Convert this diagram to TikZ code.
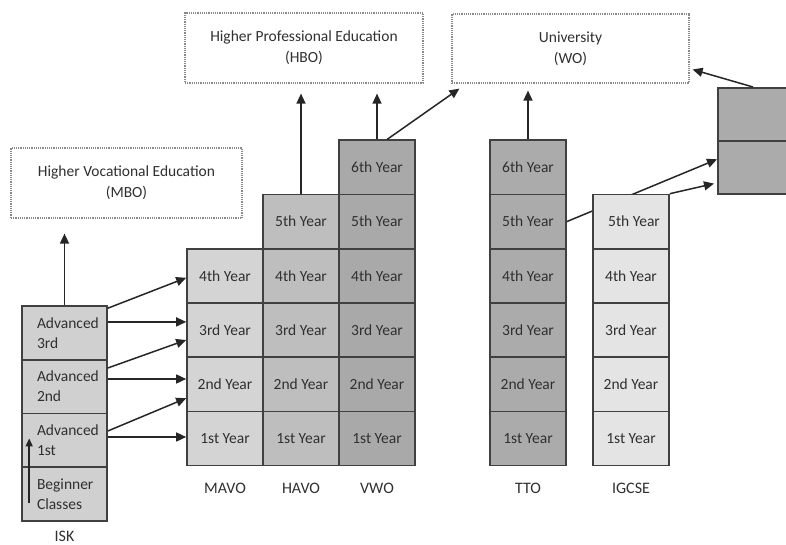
\documentclass[tikz,border=0pt]{standalone}
\usepackage{fontspec}
\setmainfont{Carlito}
\usetikzlibrary{arrows.meta,calc,backgrounds}
\definecolor{txt}{HTML}{303030}
\definecolor{edge}{HTML}{404040}
\definecolor{fisk}{HTML}{D0D0D0}
\definecolor{fmavo}{HTML}{D4D4D4}
\definecolor{fhavo}{HTML}{BEBEBE}
\definecolor{fvwo}{HTML}{A9A9A9}
\definecolor{ftto}{HTML}{ABABAB}
\definecolor{figc}{HTML}{E4E4E4}
\definecolor{dotc}{HTML}{8A8A8A}
\tikzset{
  cellbox/.style={draw=edge, line width=1.6pt, minimum width=76, minimum height=54.2,
    inner sep=0pt, text=txt, font=\fontsize{15.5}{20}\selectfont},
  iskbox/.style={draw=edge, line width=1.6pt, minimum width=85, minimum height=53.75,
    inner xsep=15pt, inner ysep=0pt, text width=55, align=left, fill=fisk, text=txt,
    font=\fontsize{15.5}{20}\selectfont},
  dest/.style={draw=dotc, densely dotted, line width=1.2pt, inner sep=0pt, align=center, text=txt,
    font=\fontsize{15.5}{21}\selectfont},
  lbl/.style={text=txt, font=\fontsize{16}{16}\selectfont, inner sep=0pt},
  arr/.style={draw=black!85, line width=1.5pt, -{Triangle[length=10pt,width=9pt]}}
}
\begin{document}
\begin{tikzpicture}[x=1pt,y=-1pt]
\clip (0,0) rectangle (786,545);
\fill[white] (0,0) rectangle (786,545);
% destination boxes
\node[dest, minimum width=231, minimum height=70] (mbo) at (126.5,183) {Higher Vocational Education\\(MBO)};
\node[dest, minimum width=238, minimum height=70] (hbo) at (304,48) {Higher Professional Education\\(HBO)};
\node[dest, minimum width=237, minimum height=69] (wo) at (570.5,48.5) {University\\(WO)};
% ISK
\node[iskbox] (isk1) at (64.5,332.9) {Advanced\\3rd};
\node[iskbox] (isk2) at (64.5,386.6) {Advanced\\2nd};
\node[iskbox] (isk3) at (64.5,440.4) {Advanced\\1st};
\node[iskbox] (isk4) at (64.5,494.1) {Beginner\\Classes};
% MAVO
\node[cellbox, fill=fmavo] (mavo1) at (225,438.4) {1st Year};
\node[cellbox, fill=fmavo] (mavo2) at (225,384.2) {2nd Year};
\node[cellbox, fill=fmavo] (mavo3) at (225,330.0) {3rd Year};
\node[cellbox, fill=fmavo] (mavo4) at (225,275.8) {4th Year};
% HAVO
\node[cellbox, fill=fhavo] (havo1) at (301,438.4) {1st Year};
\node[cellbox, fill=fhavo] (havo2) at (301,384.2) {2nd Year};
\node[cellbox, fill=fhavo] (havo3) at (301,330.0) {3rd Year};
\node[cellbox, fill=fhavo] (havo4) at (301,275.8) {4th Year};
\node[cellbox, fill=fhavo] (havo5) at (301,221.6) {5th Year};
% VWO
\node[cellbox, fill=fvwo] (vwo1) at (377,438.4) {1st Year};
\node[cellbox, fill=fvwo] (vwo2) at (377,384.2) {2nd Year};
\node[cellbox, fill=fvwo] (vwo3) at (377,330.0) {3rd Year};
\node[cellbox, fill=fvwo] (vwo4) at (377,275.8) {4th Year};
\node[cellbox, fill=fvwo] (vwo5) at (377,221.6) {5th Year};
\node[cellbox, fill=fvwo] (vwo6) at (377,167.4) {6th Year};
% TTO
\node[cellbox, fill=ftto] (tto1) at (528,438.4) {1st Year};
\node[cellbox, fill=ftto] (tto2) at (528,384.2) {2nd Year};
\node[cellbox, fill=ftto] (tto3) at (528,330.0) {3rd Year};
\node[cellbox, fill=ftto] (tto4) at (528,275.8) {4th Year};
\node[cellbox, fill=ftto] (tto5) at (528,221.6) {5th Year};
\node[cellbox, fill=ftto] (tto6) at (528,167.4) {6th Year};
% right box (cut off)
\node[cellbox, fill=ftto, minimum width=80, minimum height=53, anchor=north west] (rb1) at (717,87) {};
\node[cellbox, fill=ftto, minimum width=80, minimum height=53, anchor=north west] (rb2) at (717,140) {};
% TTO 5th -> right box, behind IGCSE
\draw[arr] (tto5.east) -- ($(rb2.west)+(0,-8)$);
% IGCSE
\node[cellbox, fill=figc] (igc1) at (631,438.4) {1st Year};
\node[cellbox, fill=figc] (igc2) at (631,384.2) {2nd Year};
\node[cellbox, fill=figc] (igc3) at (631,330.0) {3rd Year};
\node[cellbox, fill=figc] (igc4) at (631,275.8) {4th Year};
\node[cellbox, fill=figc] (igc5) at (631,221.6) {\hspace*{6pt}5th Year};
% column labels
\node[lbl] (lmavo) at (225,488) {MAVO};
\node[lbl] (lhavo) at (301,488) {HAVO};
\node[lbl] (lvwo) at (377,488) {VWO};
\node[lbl] (ltto) at (528,488) {TTO};
\node[lbl] (ligc) at (631,488) {IGCSE};
\node[lbl] (lisk) at (64.5,536) {ISK};
% arrows up
\draw[arr] (isk1.north) -- ($(isk1.north |- mbo.south)+(0,15)$);
\draw[arr] (havo5.north) -- ($(havo5.north |- hbo.south)+(0,10)$);
\draw[arr] (vwo6.north) -- ($(vwo6.north |- hbo.south)+(0,10)$);
\draw[arr] ($(vwo6.north)+(10,0)$) -- ($(wo.south west)+(8,5)$);
\draw[arr] (tto6.north) -- ($(tto6.north |- wo.south)+(0,7)$);
\draw[arr] ($(rb1.north west)+(36,0)$) -- ($(wo.east)+(3,21)$);
\draw[arr] (igc5.north east) -- ($(rb2.south west)+(-3,-11)$);
% ISK -> MAVO
\coordinate (h3) at ($(isk1.east)+(0,-11)$);
\coordinate (h2) at ($(isk2.east)+(0,-7.6)$);
\coordinate (h1) at ($(isk3.east)+(0,-3.4)$);
\draw[arr] ($(isk1.north east)+(0,3)$) -- ($(mavo4.west)+(0,2)$);
\draw[arr] (h3) -- (h3 -| mavo3.west);
\draw[arr] ($(isk2.east)+(0,-18.6)$) -- ($(mavo3.west)+(0,10)$);
\draw[arr] (h2) -- (h2 -| mavo2.west);
\draw[arr] ($(isk3.east)+(0,-9.4)$) -- ($(mavo2.west)+(0,14)$);
\draw[arr] (h1) -- (h1 -| mavo1.west);
% inner ISK arrow
\coordinate (iskin) at ($(isk4.west)+(8,9)$);
\draw[arr, -{Triangle[length=8pt,width=7pt]}] (iskin) -- ($(isk3.west)+(8,-2)$);
\end{tikzpicture}
\end{document}
